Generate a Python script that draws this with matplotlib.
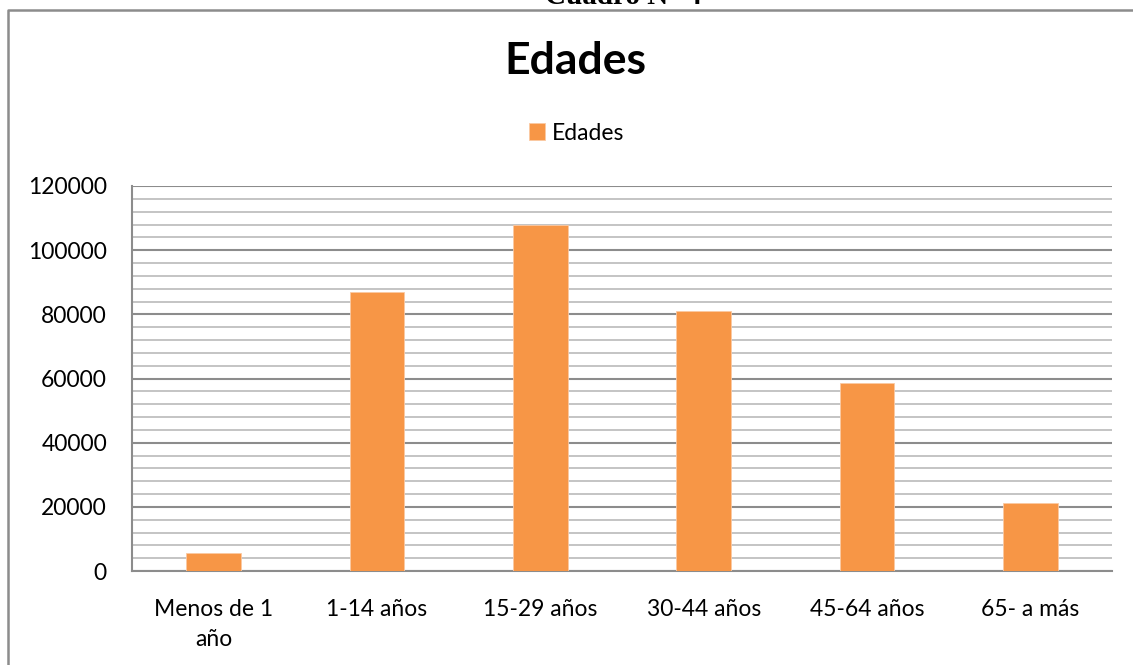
import matplotlib
matplotlib.use("Agg")
import matplotlib.pyplot as plt
from matplotlib.lines import Line2D
import numpy as np

categories = ["Menos de 1\naño", "1-14 años", "15-29 años", "30-44 años", "45-64 años", "65- a más"]
values = [5500, 87000, 108000, 81000, 58700, 21100]
yticks = [0, 20000, 40000, 60000, 80000, 100000, 120000]

plt.rcParams['font.family'] = ['Lato', 'DejaVu Sans']

W, H = 1133, 665
fig = plt.figure(figsize=(W/100, H/100), dpi=100)
ax = fig.add_axes([132/W, 1-571/H, (1112-132)/W, (571-186)/H])

x = np.arange(len(categories))
ax.bar(x, values, width=0.333, color='#F79646', edgecolor='#FBC9A3', linewidth=0.6,
       zorder=3, label='Edades')
ax.set_xlim(-0.5, len(categories)-0.5)
ax.set_ylim(0, 120000)

ax.set_yticks(yticks)
ax.set_yticklabels([str(v) for v in yticks], fontsize=16.5)
ax.set_yticks(np.arange(0, 120001, 4000), minor=True)
ax.yaxis.grid(True, which='minor', color='#BFBFBF', linewidth=1.3, zorder=0)
ax.yaxis.grid(True, which='major', color='#8C8C8C', linewidth=1.5, zorder=1)
ax.set_xticks(x)
ax.set_xticklabels(categories, fontsize=16.5, linespacing=1.55, va='top')
ax.tick_params(axis='both', which='both', length=0)
ax.tick_params(axis='y', pad=18)
ax.tick_params(axis='x', pad=20)
for s in ['top', 'right']:
    ax.spines[s].set_visible(False)
for s in ['left', 'bottom']:
    ax.spines[s].set_color('#8C8C8C')
    ax.spines[s].set_linewidth(1.5)

fig.text(575/W, 1-61/H, 'Edades', fontsize=32, fontweight='bold', ha='center', va='center')
handles, labels = ax.get_legend_handles_labels()
fig.legend(handles, labels, loc='center', bbox_to_anchor=(577/W, 1-133/H), frameon=False,
           fontsize=16.5, handlelength=0.7, handleheight=0.7, handletextpad=0.3)

# outer frame
fig.add_artist(Line2D([8/W, 8/W, 1.0], [0.0, 1-10/H, 1-10/H], transform=fig.transFigure,
                      color='#8C8C8C', linewidth=1.8))
fig.text(623/W, 1-4/H, 'Cuadro N° 4', fontsize=21, fontweight='bold', ha='center',
         va='baseline', family='Liberation Serif')

fig.savefig('out.png', dpi=100)
